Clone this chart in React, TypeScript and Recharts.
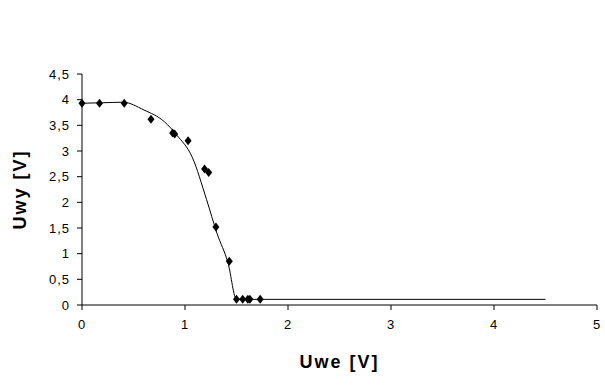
import React from 'react';
import { ComposedChart, Line, Scatter, XAxis, YAxis } from 'recharts';

// measured points
const uweMeas = [0, 0.17, 0.41, 0.67, 0.88, 0.9, 1.03, 1.19, 1.23, 1.3, 1.43, 1.5, 1.56, 1.61, 1.63, 1.73];
const uwyMeas = [3.93, 3.93, 3.93, 3.62, 3.35, 3.33, 3.2, 2.65, 2.58, 1.52, 0.85, 0.11, 0.11, 0.11, 0.11, 0.11];

// fitted curve
const uweFit = [0, 0.2, 0.4, 0.6, 0.8, 0.92, 1.07, 1.21, 1.31, 1.42, 1.5, 4.5];
const uwyFit = [3.93, 3.94, 3.95, 3.8, 3.57, 3.31, 2.88, 2.05, 1.4, 0.8, 0.11, 0.11];

const xTicks = [0, 1, 2, 3, 4, 5];
const yTicks = [0, 0.5, 1, 1.5, 2, 2.5, 3, 3.5, 4, 4.5];

const measured = uweMeas.map((x, i) => ({ x, y: uwyMeas[i] }));
const fitted = uweFit.map((x, i) => ({ x, y: uwyFit[i] }));

const FONT = '"Liberation Sans", Arial, sans-serif';
const fmt = (v: number) => String(v).replace('.', ',');

const tickStyle = { fill: '#000', fontSize: 13, fontFamily: FONT, letterSpacing: 1 };
const titleStyle = { fill: '#000', fontSize: 18, fontWeight: 'bold', fontFamily: FONT, letterSpacing: 2 };

const Diamond = (props: any) => {
  const { cx, cy } = props;
  return <polygon points={`${cx},${cy - 4.5} ${cx + 3.5},${cy} ${cx},${cy + 4.5} ${cx - 3.5},${cy}`} fill="#000" />;
};

export default function App() {
  return (
    <div style={{ position: 'absolute', left: 0, top: 0, width: 605, height: 390, background: '#fff', fontFamily: FONT }}>
      <ComposedChart width={605} height={390} margin={{ top: 74, right: 8, left: 0, bottom: 0 }}>
        <XAxis
          type="number"
          dataKey="x"
          domain={[0, 5]}
          ticks={xTicks}
          tickFormatter={fmt}
          height={85}
          stroke="#000"
          tickSize={5}
          tickMargin={10}
          tick={tickStyle}
          label={{ value: 'Uwe [V]', position: 'insideBottom', offset: 22, ...titleStyle }}
        />
        <YAxis
          type="number"
          dataKey="y"
          domain={[0, 4.5]}
          ticks={yTicks}
          tickFormatter={fmt}
          width={82}
          stroke="#000"
          tickSize={5}
          tickMargin={7}
          tick={tickStyle}
          label={{ value: 'Uwy [V]', angle: -90, position: 'insideLeft', offset: 20, ...titleStyle, style: { textAnchor: 'middle' } }}
        />
        <Line
          data={fitted}
          dataKey="y"
          type="monotone"
          stroke="#000"
          strokeWidth={1}
          dot={false}
          activeDot={false}
          isAnimationActive={false}
        />
        <Scatter data={measured} dataKey="y" fill="#000" shape={<Diamond />} isAnimationActive={false} />
      </ComposedChart>
    </div>
  );
}
